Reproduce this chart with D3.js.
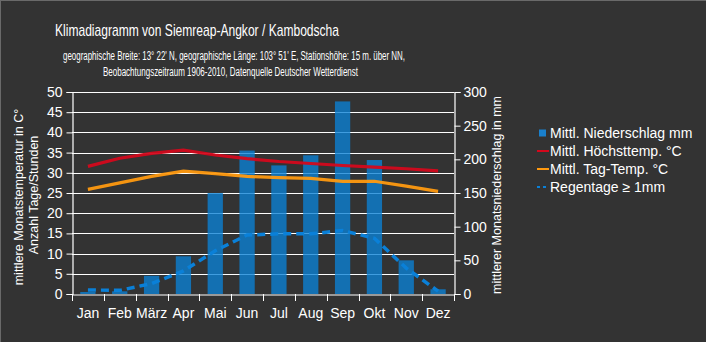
<!DOCTYPE html>
<html><head><meta charset="utf-8">
<script src="https://cdn.jsdelivr.net/npm/d3@7/dist/d3.min.js"></script>
<style>html,body{margin:0;padding:0;background:#333;}svg{display:block;}</style>
</head><body>
<script>
const months = ["Jan","Feb","März","Apr","Mai","Jun","Jul","Aug","Sep","Okt","Nov","Dez"];
const precipitation = [3, 4, 27, 56, 150, 213, 191, 206, 286, 199, 50, 7];
const maxTemp = [31.6, 33.6, 34.8, 35.6, 34.4, 33.5, 32.8, 32.3, 31.8, 31.4, 31.0, 30.5];
const dayTemp = [25.9, 27.5, 29.1, 30.4, 29.8, 29.1, 28.8, 28.6, 27.9, 27.9, 26.7, 25.4];
const rainDays = [1.0, 0.9, 2.6, 5.7, 10.7, 14.6, 14.9, 14.9, 15.7, 13.8, 6.4, 0.7];
const leftTicks = [0,5,10,15,20,25,30,35,40,45,50];
const rightTicks = [0,50,100,150,200,250,300];
const legendLabels = ["Mittl. Niederschlag mm","Mittl. Höchsttemp. °C","Mittl. Tag-Temp. °C","Regentage ≥ 1mm"];

const W = 706, H = 342;
const font = "'Liberation Sans', Arial, sans-serif";
const svg = d3.select("body").append("svg").attr("width", W).attr("height", H);
svg.append("rect").attr("width", W).attr("height", H).attr("fill", "#333333");
svg.append("line").attr("x1",0).attr("x2",W).attr("y1",0.5).attr("y2",0.5).attr("stroke","#6a6a6a");
svg.append("line").attr("x1",0.5).attr("x2",0.5).attr("y1",0).attr("y2",H).attr("stroke","#6a6a6a");

const x0 = 72, x1 = 454, yTop = 92, yBot = 294;
const x = d3.scaleBand().domain(months).range([x0, x1]).padding(0);
const yL = d3.scaleLinear().domain([0, 50]).range([yBot, yTop]);
const yR = d3.scaleLinear().domain([0, 300]).range([yBot, yTop]);
const cx = m => x(m) + x.bandwidth() / 2;

// gridlines
svg.append("g").selectAll("line").data(leftTicks.filter(d => d > 0)).join("line")
  .attr("x1", x0).attr("x2", x1).attr("y1", d => Math.round(yL(d)) + 0.5).attr("y2", d => Math.round(yL(d)) + 0.5)
  .attr("stroke", "#ffffff").attr("stroke-width", 1);

// bars
const bw = x.bandwidth() * 0.48;
svg.append("g").selectAll("rect").data(precipitation).join("rect")
  .attr("x", (d, i) => cx(months[i]) - bw / 2).attr("width", bw)
  .attr("y", d => yR(d)).attr("height", d => yBot - yR(d))
  .attr("fill", "#0a82d6").attr("fill-opacity", 0.78);

// axes
const axL = svg.append("g").attr("transform", `translate(${x0 + 0.5},0)`)
  .call(d3.axisLeft(yL).tickValues(leftTicks).tickSize(6).tickPadding(4));
const axR = svg.append("g").attr("transform", `translate(${x1 + 0.5},0)`)
  .call(d3.axisRight(yR).tickValues(rightTicks).tickSize(6).tickPadding(3));
const axB = svg.append("g").attr("transform", `translate(0,${yBot + 0.5})`)
  .call(d3.axisBottom(x).tickSize(0).tickPadding(14));
[axL, axR, axB].forEach(a => {
  a.selectAll("path").attr("stroke", "#fff").attr("stroke-width", 1.2);
  a.selectAll("line").attr("stroke", "#fff");
  a.selectAll("text").attr("fill", "#fff").attr("font-family", font).attr("font-size", 14);
});
// bottom category boundary ticks
const bounds = months.map(m => x(m)).concat([x1]);
svg.append("g").selectAll("line").data(bounds).join("line")
  .attr("x1", d => Math.round(d) + 0.5).attr("x2", d => Math.round(d) + 0.5)
  .attr("y1", yBot).attr("y2", yBot + 7).attr("stroke", "#fff");

// lines
const lineL = d3.line().x((d, i) => cx(months[i])).y(d => yL(d));
svg.append("path").datum(maxTemp).attr("d", lineL).attr("fill", "none")
  .attr("stroke", "#d4081c").attr("stroke-width", 3.2).attr("stroke-opacity", 0.95);
svg.append("path").datum(dayTemp).attr("d", lineL).attr("fill", "none")
  .attr("stroke", "#ff9a10").attr("stroke-width", 3.2).attr("stroke-opacity", 0.95);
svg.append("path").datum(rainDays).attr("d", lineL).attr("fill", "none")
  .attr("stroke", "#0a80d8").attr("stroke-width", 3.5).attr("stroke-dasharray", "8,5");

// titles
svg.append("text").attr("x", 55).attr("y", 36).attr("font-family", font).attr("font-size", 17)
  .attr("fill", "#fff").attr("textLength", 284).attr("lengthAdjust", "spacingAndGlyphs")
  .text("Klimadiagramm von Siemreap-Angkor / Kambodscha");
svg.append("text").attr("x", 63).attr("y", 60).attr("font-family", font).attr("font-size", 12.5)
  .attr("fill", "#fff").attr("textLength", 342).attr("lengthAdjust", "spacingAndGlyphs")
  .text("geographische Breite: 13° 22' N, geographische Länge: 103° 51' E, Stationshöhe: 15 m. über NN,");
svg.append("text").attr("x", 103).attr("y", 76).attr("font-family", font).attr("font-size", 12.5)
  .attr("fill", "#fff").attr("textLength", 255).attr("lengthAdjust", "spacingAndGlyphs")
  .text("Beobachtungszeitraum 1906-2010, Datenquelle Deutscher Wetterdienst");

svg.append("text").attr("transform", "translate(23,197) rotate(-90)").attr("text-anchor", "middle")
  .attr("font-family", font).attr("font-size", 12.5).attr("fill", "#fff").text("mittlere Monatstemperatur in C°");
svg.append("text").attr("transform", "translate(38,195) rotate(-90)").attr("text-anchor", "middle")
  .attr("font-family", font).attr("font-size", 12.5).attr("fill", "#fff").text("Anzahl Tage/Stunden");
svg.append("text").attr("transform", "translate(501,195) rotate(-90)").attr("text-anchor", "middle")
  .attr("font-family", font).attr("font-size", 12.5).attr("fill", "#fff").text("mittlerer Monatsniederschlag in mm");

// legend
const lg = svg.append("g").attr("transform", "translate(537,133)");
legendLabels.forEach((t, i) => {
  const g = lg.append("g").attr("transform", `translate(0,${i * 18})`);
  if (i === 0) g.append("rect").attr("x", 2).attr("y", -3.5).attr("width", 7).attr("height", 7).attr("fill", "#1a80cc");
  else if (i === 1) g.append("line").attr("x1", 0).attr("x2", 12).attr("stroke", "#d4081c").attr("stroke-width", 2);
  else if (i === 2) g.append("line").attr("x1", 0).attr("x2", 12).attr("stroke", "#ff9a10").attr("stroke-width", 2);
  else g.append("line").attr("x1", 0).attr("x2", 12).attr("stroke", "#0a80d8").attr("stroke-width", 2).attr("stroke-dasharray", "3,3");
  g.append("text").attr("x", 13).attr("y", 5).attr("font-family", font).attr("font-size", 14)
    .attr("fill", "#fff").text(t);
});
</script>
</body></html>
